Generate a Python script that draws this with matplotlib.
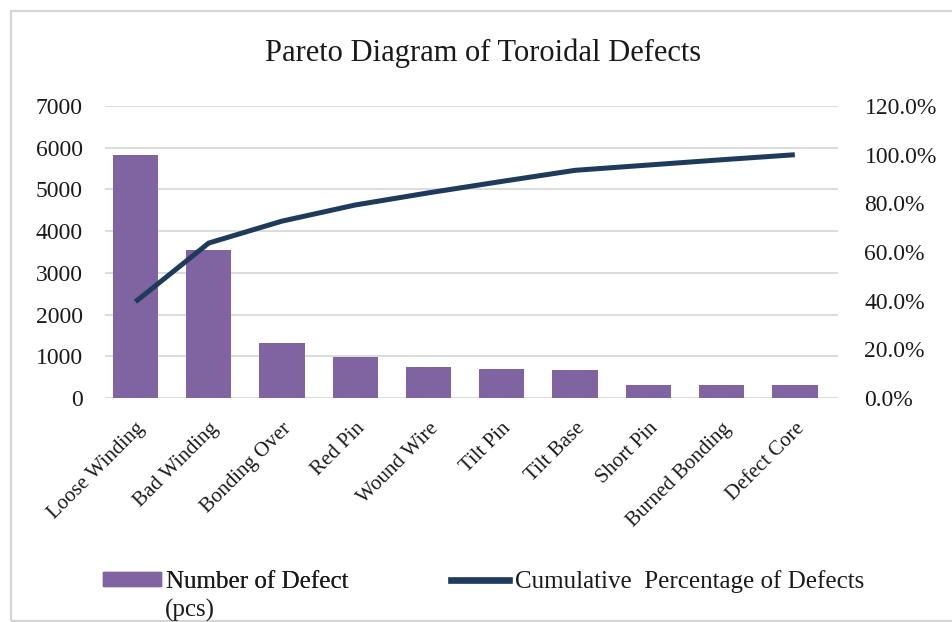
import numpy as np
import matplotlib.pyplot as plt
from matplotlib.patches import Rectangle, Patch
from matplotlib.lines import Line2D
from matplotlib.ticker import FuncFormatter

# --- Data ---
defects = ["Loose Winding", "Bad Winding", "Bonding Over", "Red Pin", "Wound Wire",
           "Tilt Pin", "Tilt Base", "Short Pin", "Burned Bonding", "Defect Core"]
counts = [5820, 3550, 1325, 975, 735, 690, 670, 320, 318, 305]

cum_pct = np.cumsum(counts) / np.sum(counts) * 100

plt.rcParams["font.family"] = ["Liberation Serif", "DejaVu Serif"]

bar_color = "#8064A2"
line_color = "#1F3B5C"
grid_color = "#D9D9D9"
text_color = "#1A1A1A"

fig = plt.figure(figsize=(9.52, 6.22), dpi=100)
ax = fig.add_axes([0.1103, 0.360, 0.770, 0.4695])
ax2 = ax.twinx()

x = np.arange(len(defects))
ax.bar(x, counts, width=0.62, color=bar_color, zorder=2)
ax2.plot(x, cum_pct, color=line_color, linewidth=3.6, solid_capstyle="butt", zorder=3)

ax.set_xlim(-0.416, 9.59)
ax.set_ylim(0, 7000)
ax.set_yticks(range(0, 7001, 1000))
ax2.set_ylim(0, 120)
ax2.set_yticks(range(0, 121, 20))
ax2.yaxis.set_major_formatter(FuncFormatter(lambda v, p: f"{v:.1f}%"))

ax.yaxis.grid(True, color=grid_color, linewidth=1.3, zorder=0)
ax.set_axisbelow(True)
for a in (ax, ax2):
    for s in a.spines.values():
        s.set_visible(False)
    a.tick_params(length=0, labelsize=17, colors=text_color)
ax.tick_params(axis="y", pad=16)
ax2.tick_params(axis="y", pad=19)

ax.set_xticks(x)
ax.set_xticklabels(defects, rotation=45, ha="right", rotation_mode="anchor", fontsize=15)
ax.tick_params(axis="x", pad=15)

fig.text(0.507, 0.914, "Pareto Diagram of Toroidal Defects", ha="center", va="center",
         fontsize=22, color=text_color)

# legend entries placed separately along the bottom
leg_fs = 18
leg1 = fig.legend(handles=[Patch(color=bar_color)], labels=["Number of Defect"],
                  loc="center left", bbox_to_anchor=(103 / 952, 1 - 582 / 622), frameon=False,
                  fontsize=leg_fs, handlelength=2.3, handleheight=0.45, handletextpad=0.2,
                  borderaxespad=0, borderpad=0, labelcolor=text_color)
leg2 = fig.legend(handles=[Line2D([], [], color=line_color, linewidth=4.8)],
                  labels=["Cumulative  Percentage of Defects"],
                  loc="center left", bbox_to_anchor=(451 / 952, 1 - 582 / 622), frameon=False,
                  fontsize=leg_fs, handlelength=2.3, handletextpad=0.25, borderaxespad=0,
                  borderpad=0, labelcolor=text_color)
fig.add_artist(leg1)
fig.text(165 / 952, 1 - 617 / 622, "(pcs)", ha="left", va="baseline", fontsize=leg_fs,
         color=text_color)

# light frame around the chart area (right edge runs off the figure)
fig.add_artist(Rectangle((10.5 / 952, 1.5 / 622), 1.0, 1 - 12 / 622,
                         transform=fig.transFigure, fill=False, edgecolor="#D6D6D6",
                         linewidth=1.6))

fig.savefig("out.png", dpi=100)
